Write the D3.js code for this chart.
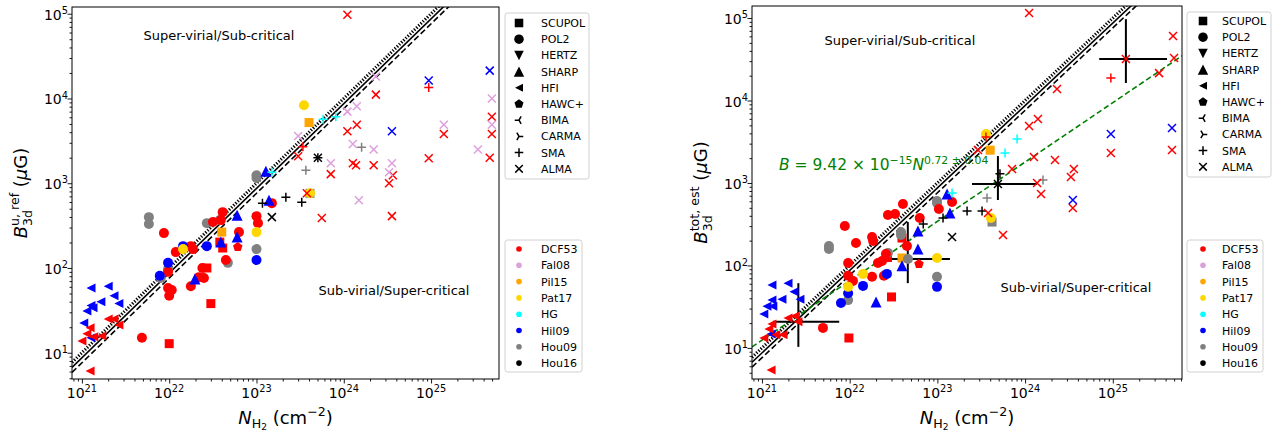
<!DOCTYPE html>
<html>
<head>
<meta charset="utf-8">
<script src="https://cdn.jsdelivr.net/npm/d3@7"></script>
<style>
  body { margin: 0; background: #fff; }
  svg { font-family: 'DejaVu Sans', sans-serif; }
</style>
</head>
<body>
<svg id="chart" width="1284" height="435"></svg>
<script>
const INSTRUMENTS = ['SCUPOL', 'POL2', 'HERTZ', 'SHARP', 'HFI', 'HAWC+', 'BIMA', 'CARMA', 'SMA', 'ALMA'];
const REFERENCES = ['DCF53', 'Fal08', 'Pil15', 'Pat17', 'HG', 'Hil09', 'Hou09', 'Hou16'];
const REF_COLORS = ['#ff0000', '#dda0dd', '#ffa500', '#ffd700', '#00ffff', '#0000ff', '#808080', '#000000'];
const X_TICKS = [1e21, 1e22, 1e23, 1e24, 1e25];
const Y_TICKS = [1e1, 1e2, 1e3, 1e4, 1e5];

// B = k * N reference lines (dotted, solid, dashed)
const REF_LINE_K = [1.0e-20, 8.7e-21, 7.6e-21];
// fitted relation in the right panel: B = a * N^p
const FIT_A = 9.42e-15;
const FIT_P = 0.72;

// [N_H2, B, instrument, reference]
const LEFT_POINTS = [
  [4.0e23, 5200, 'SCUPOL', 'Pil15'], [4.0e22, 265, 'SCUPOL', 'Pil15'], [4.1e23, 760, 'SCUPOL', 'Hou09'],
  [3.8e22, 202, 'SCUPOL', 'DCF53'], [4.1e22, 172, 'SCUPOL', 'DCF53'], [2.7e22, 100, 'SCUPOL', 'DCF53'],
  [3.0e22, 38, 'SCUPOL', 'DCF53'], [1.0e22, 12.8, 'SCUPOL', 'DCF53'],
  [1.0e23, 1240, 'POL2', 'Hou09'], [1.0e23, 1150, 'POL2', 'Hou09'], [5.85e21, 398, 'POL2', 'Hou09'],
  [5.85e21, 330, 'POL2', 'Hou09'], [3.8e22, 367, 'POL2', 'Hou09'], [2.7e22, 338, 'POL2', 'Hou09'],
  [1.0e23, 167, 'POL2', 'Hou09'], [4.7e22, 115, 'POL2', 'Hou09'], [9.7e21, 97, 'POL2', 'Hou09'],
  [8.0e21, 76, 'POL2', 'Hou09'],
  [4.1e22, 456, 'POL2', 'DCF53'], [1.0e23, 409, 'POL2', 'DCF53'], [1.04e23, 338, 'POL2', 'DCF53'],
  [1.5e23, 582, 'POL2', 'DCF53'], [3.17e22, 348, 'POL2', 'DCF53'], [3.9e22, 367, 'POL2', 'DCF53'],
  [8.7e21, 258, 'POL2', 'DCF53'], [1.77e22, 181, 'POL2', 'DCF53'], [1.87e22, 167, 'POL2', 'DCF53'],
  [6.3e22, 265, 'POL2', 'DCF53'], [1.19e22, 154, 'POL2', 'DCF53'], [4.46e22, 124, 'POL2', 'DCF53'],
  [9.7e21, 90, 'POL2', 'DCF53'], [2.4e22, 100, 'POL2', 'DCF53'], [2.5e22, 76, 'POL2', 'DCF53'],
  [2.19e22, 78, 'POL2', 'DCF53'], [1.77e22, 61, 'POL2', 'DCF53'], [9.7e21, 58, 'POL2', 'DCF53'],
  [1.07e22, 55, 'POL2', 'DCF53'], [1.0e22, 47, 'POL2', 'DCF53'], [4.87e21, 15, 'POL2', 'DCF53'],
  [1.44e22, 181, 'POL2', 'Hil09'], [2.7e22, 181, 'POL2', 'Hil09'], [1.0e23, 124, 'POL2', 'Hil09'],
  [9.7e21, 115, 'POL2', 'Hil09'], [7.8e21, 81, 'POL2', 'Hil09'],
  [3.5e23, 8300, 'POL2', 'Pat17'], [4.1e23, 762, 'POL2', 'Pat17'], [1.0e23, 265, 'POL2', 'Pat17'],
  [1.44e22, 167, 'POL2', 'Pat17'],
  [1.28e23, 1380, 'SHARP', 'Hil09'], [1.39e23, 631, 'SHARP', 'Hil09'], [6.0e22, 420, 'SHARP', 'Hil09'],
  [3.9e22, 202, 'SHARP', 'Hil09'], [6.0e22, 232, 'SHARP', 'Hil09'], [1.97e22, 74, 'SHARP', 'Hil09'],
  [6.1e22, 177, 'HAWC+', 'DCF53'],
  [1.27e21, 58, 'HFI', 'Hil09'], [2.0e21, 61, 'HFI', 'Hil09'], [1.65e21, 40, 'HFI', 'Hil09'],
  [2.33e21, 47, 'HFI', 'Hil09'], [2.65e21, 38, 'HFI', 'Hil09'], [1.27e21, 36, 'HFI', 'Hil09'],
  [1.34e21, 34, 'HFI', 'Hil09'], [1.14e21, 31, 'HFI', 'Hil09'], [1.05e21, 22.5, 'HFI', 'Hil09'],
  [1.27e21, 15, 'HFI', 'Hil09'],
  [2.0e21, 25, 'HFI', 'DCF53'], [2.33e21, 25, 'HFI', 'DCF53'], [2.65e21, 21.3, 'HFI', 'DCF53'],
  [1.24e21, 19.7, 'HFI', 'DCF53'], [1.14e21, 16.7, 'HFI', 'DCF53'], [1.69e21, 15.8, 'HFI', 'DCF53'],
  [1.37e21, 15.4, 'HFI', 'DCF53'], [1.0e21, 13.8, 'HFI', 'DCF53'], [1.24e21, 6.1, 'HFI', 'DCF53'],
  [1.17e23, 582, 'SMA', 'Hou16'], [2.17e23, 684, 'SMA', 'Hou16'], [3.3e23, 597, 'SMA', 'Hou16'],
  [5.05e23, 2000, 'SMA', 'Hou16'],
  [3.4e23, 2700, 'SMA', 'DCF53'], [9.4e24, 13500, 'SMA', 'DCF53'],
  [1.5e23, 1350, 'SMA', 'HG'], [5.8e23, 5700, 'SMA', 'HG'], [8.1e23, 6100, 'SMA', 'HG'],
  [3.68e23, 1420, 'SMA', 'Hou09'], [1.6e24, 2650, 'SMA', 'Hou09'],
  [5.05e23, 2000, 'ALMA', 'Hou16'], [1.5e23, 398, 'ALMA', 'Hou16'],
  [1.1e24, 97000, 'ALMA', 'DCF53'], [3.0e23, 2080, 'ALMA', 'DCF53'], [3.78e23, 762, 'ALMA', 'DCF53'],
  [2.33e24, 11100, 'ALMA', 'DCF53'], [1.41e24, 4900, 'ALMA', 'DCF53'], [1.1e24, 4100, 'ALMA', 'DCF53'],
  [4.97e25, 6100, 'ALMA', 'DCF53'], [4.97e25, 3800, 'ALMA', 'DCF53'], [1.4e25, 3800, 'ALMA', 'DCF53'],
  [4.7e25, 2000, 'ALMA', 'DCF53'], [9.4e24, 1970, 'ALMA', 'DCF53'], [7.1e23, 1280, 'ALMA', 'DCF53'],
  [1.27e24, 1720, 'ALMA', 'DCF53'], [1.38e24, 1630, 'ALMA', 'DCF53'], [2.2e24, 1630, 'ALMA', 'DCF53'],
  [3.65e24, 1240, 'ALMA', 'DCF53'], [3.3e24, 1000, 'ALMA', 'DCF53'], [5.6e23, 388, 'ALMA', 'DCF53'],
  [3.56e24, 409, 'ALMA', 'DCF53'],
  [3.0e23, 3600, 'ALMA', 'Fal08'], [2.33e24, 18200, 'ALMA', 'Fal08'], [4.97e25, 10000, 'ALMA', 'Fal08'],
  [1.41e24, 8100, 'ALMA', 'Fal08'], [1.1e24, 7000, 'ALMA', 'Fal08'], [4.97e25, 4900, 'ALMA', 'Fal08'],
  [1.4e25, 4900, 'ALMA', 'Fal08'], [1.27e24, 2900, 'ALMA', 'Fal08'], [2.2e24, 2500, 'ALMA', 'Fal08'],
  [3.44e25, 2500, 'ALMA', 'Fal08'], [7.1e23, 1720, 'ALMA', 'Fal08'], [3.56e24, 1720, 'ALMA', 'Fal08'],
  [3.3e24, 1350, 'ALMA', 'Fal08'], [1.49e24, 631, 'ALMA', 'Fal08'],
  [4.7e25, 21300, 'ALMA', 'Hil09'], [9.4e24, 16300, 'ALMA', 'Hil09'], [3.56e24, 4100, 'ALMA', 'Hil09']
];

const RIGHT_POINTS = [
  [4.0e23, 2500, 'SCUPOL', 'Pil15'], [3.95e22, 123, 'SCUPOL', 'Pil15'], [4.2e23, 336, 'SCUPOL', 'Hou09'],
  [3.0e22, 41.5, 'SCUPOL', 'DCF53'], [9.8e21, 13.2, 'SCUPOL', 'DCF53'], [2.7e22, 125, 'SCUPOL', 'DCF53'],
  [3.95e22, 215, 'SCUPOL', 'DCF53'],
  [9.9e22, 605, 'POL2', 'Hou09'], [9.9e22, 573, 'POL2', 'Hou09'], [5.8e21, 172, 'POL2', 'Hou09'],
  [5.8e21, 158, 'POL2', 'Hou09'], [3.85e22, 255, 'POL2', 'Hou09'], [3.85e22, 234, 'POL2', 'Hou09'],
  [2.73e22, 142, 'POL2', 'Hou09'], [4.62e22, 120, 'POL2', 'Hou09'], [9.9e22, 73, 'POL2', 'Hou09'],
  [9.6e21, 38, 'POL2', 'Hou09'],
  [4.05e22, 556, 'POL2', 'DCF53'], [2.73e22, 409, 'POL2', 'DCF53'], [3.29e22, 421, 'POL2', 'DCF53'],
  [6.3e22, 377, 'POL2', 'DCF53'], [1.47e23, 589, 'POL2', 'DCF53'], [1.04e23, 484, 'POL2', 'DCF53'],
  [8.8e21, 301, 'POL2', 'DCF53'], [1.8e22, 221, 'POL2', 'DCF53'], [1.85e22, 198, 'POL2', 'DCF53'],
  [1.18e22, 187, 'POL2', 'DCF53'], [4.5e22, 172, 'POL2', 'DCF53'], [2.59e22, 138, 'POL2', 'DCF53'],
  [2.34e22, 113, 'POL2', 'DCF53'], [2.1e22, 107, 'POL2', 'DCF53'], [9.6e21, 107, 'POL2', 'DCF53'],
  [2.46e22, 75, 'POL2', 'DCF53'], [9.6e21, 75, 'POL2', 'DCF53'], [1.09e22, 65, 'POL2', 'DCF53'],
  [1.8e22, 73, 'POL2', 'DCF53'], [4.96e21, 17.5, 'POL2', 'DCF53'],
  [2.66e22, 79, 'POL2', 'Hil09'], [1.42e22, 56.5, 'POL2', 'Hil09'], [9.6e21, 46, 'POL2', 'Hil09'],
  [7.96e21, 35, 'POL2', 'Hil09'], [9.9e22, 55, 'POL2', 'Hil09'],
  [3.58e23, 3930, 'POL2', 'Pat17'], [4.08e23, 377, 'POL2', 'Pat17'], [9.9e22, 123, 'POL2', 'Pat17'],
  [1.42e22, 79, 'POL2', 'Pat17'], [9.6e21, 55, 'POL2', 'Pat17'],
  [1.29e23, 736, 'SHARP', 'Hil09'], [1.39e23, 433, 'SHARP', 'Hil09'], [6.0e22, 262, 'SHARP', 'Hil09'],
  [6.0e22, 158, 'SHARP', 'Hil09'], [3.95e22, 99, 'SHARP', 'Hil09'], [2.0e22, 36, 'SHARP', 'Hil09'],
  [6.17e22, 104, 'HAWC+', 'DCF53'],
  [1.3e21, 58, 'HFI', 'Hil09'], [1.98e21, 61, 'HFI', 'Hil09'], [2.32e21, 48, 'HFI', 'Hil09'],
  [1.69e21, 39, 'HFI', 'Hil09'], [2.71e21, 39, 'HFI', 'Hil09'], [1.3e21, 38, 'HFI', 'Hil09'],
  [1.14e21, 32, 'HFI', 'Hil09'], [1.33e21, 32, 'HFI', 'Hil09'], [1.05e21, 25.8, 'HFI', 'Hil09'],
  [1.27e21, 14.8, 'HFI', 'Hil09'],
  [1.98e21, 23.1, 'HFI', 'DCF53'], [2.38e21, 24.4, 'HFI', 'DCF53'], [2.57e21, 20.7, 'HFI', 'DCF53'],
  [1.3e21, 19.5, 'HFI', 'DCF53'], [1.2e21, 17, 'HFI', 'DCF53'], [1.05e21, 13.2, 'HFI', 'DCF53'],
  [1.44e21, 14.4, 'HFI', 'DCF53'], [1.74e21, 14.4, 'HFI', 'DCF53'], [1.27e21, 5.4, 'HFI', 'DCF53'],
  [5.17e23, 1290, 'SMA', 'Hou16'], [2.18e23, 458, 'SMA', 'Hou16'], [3.23e23, 458, 'SMA', 'Hou16'],
  [1.16e23, 377, 'SMA', 'Hou16'], [6.9e22, 318, 'SMA', 'Hou16'], [4.9e23, 973, 'SMA', 'Hou16'],
  [3.58e23, 3610, 'SMA', 'DCF53'], [9.5e24, 18700, 'SMA', 'DCF53'],
  [1.47e23, 757, 'SMA', 'HG'], [8.1e23, 3420, 'SMA', 'HG'], [5.9e23, 2310, 'SMA', 'HG'],
  [3.68e23, 658, 'SMA', 'Hou09'], [1.6e24, 1090, 'SMA', 'Hou09'],
  [4.9e23, 973, 'ALMA', 'Hou16'], [1.47e23, 221, 'ALMA', 'Hou16'],
  [1.11e24, 115000, 'ALMA', 'DCF53'], [4.86e25, 60500, 'ALMA', 'DCF53'], [4.99e25, 32700, 'ALMA', 'DCF53'],
  [3.37e25, 21500, 'ALMA', 'DCF53'], [1.41e25, 31900, 'ALMA', 'DCF53'], [2.31e24, 13800, 'ALMA', 'DCF53'],
  [1.4e24, 5970, 'ALMA', 'DCF53'], [1.11e24, 4900, 'ALMA', 'DCF53'], [9.5e24, 2310, 'ALMA', 'DCF53'],
  [4.73e25, 2510, 'ALMA', 'DCF53'], [1.26e24, 2070, 'ALMA', 'DCF53'], [2.19e24, 1900, 'ALMA', 'DCF53'],
  [7.1e23, 1480, 'ALMA', 'DCF53'], [3.6e24, 1480, 'ALMA', 'DCF53'], [3.33e24, 1180, 'ALMA', 'DCF53'],
  [1.37e24, 1000, 'ALMA', 'DCF53'], [1.52e24, 736, 'ALMA', 'DCF53'], [3.5e24, 498, 'ALMA', 'DCF53'],
  [2.9e23, 2510, 'ALMA', 'DCF53'], [3.78e23, 433, 'ALMA', 'DCF53'], [5.6e23, 234, 'ALMA', 'DCF53'],
  [9.5e24, 3930, 'ALMA', 'Hil09'], [4.73e25, 4640, 'ALMA', 'Hil09'], [3.5e24, 622, 'ALMA', 'Hil09']
];

// [N, B, N low, N high, B low, B high]
const RIGHT_ERRORS = [
  [2.6e21, 20.7, 1.33e21, 7.6e21, 10.3, 61],
  [4.6e22, 120, 2.66e22, 1.39e23, 61, 336],
  [4.9e23, 973, 2.48e23, 1.37e24, 622, 2120],
  [1.41e25, 31900, 7.0e24, 4.15e25, 16300, 97000]
];

const svg = d3.select('#chart');
const color = d3.scaleOrdinal().domain(REFERENCES).range(REF_COLORS);
const STROKED = new Set(['BIMA', 'CARMA', 'SMA', 'ALMA']);
const MARKER_R = { SCUPOL: 4.5, POL2: 5, HERTZ: 5, SHARP: 5.5, HFI: 4.5, 'HAWC+': 5, BIMA: 4.5, CARMA: 4.5, SMA: 4.5, ALMA: 4 };

function markerPath(inst, r) {
  switch (inst) {
    case 'SCUPOL': return `M${-r},${-r}H${r}V${r}H${-r}Z`;
    case 'POL2': return `M${r},0A${r},${r} 0 1,1 ${-r},0A${r},${r} 0 1,1 ${r},0Z`;
    case 'HERTZ': return `M0,${r}L${-r},${-r}L${r},${-r}Z`;
    case 'SHARP': return `M0,${-r}L${-r},${r}L${r},${r}Z`;
    case 'HFI': return `M${-r},0L${r},${-r}L${r},${r}Z`;
    case 'HAWC+': {
      const pts = d3.range(5).map((i) => {
        const a = -Math.PI / 2 + (i * 2 * Math.PI) / 5;
        return [r * Math.cos(a), r * Math.sin(a)];
      });
      return 'M' + pts.map((p) => p.join(',')).join('L') + 'Z';
    }
    case 'BIMA': return `M0,0L${-r},0M0,0L${r * 0.5},${-r * 0.87}M0,0L${r * 0.5},${r * 0.87}`;
    case 'CARMA': return `M0,0L${r},0M0,0L${-r * 0.5},${-r * 0.87}M0,0L${-r * 0.5},${r * 0.87}`;
    case 'SMA': return `M${-r},0H${r}M0,${-r}V${r}`;
    case 'ALMA': return `M${-r},${-r}L${r},${r}M${-r},${r}L${r},${-r}`;
  }
}

function drawMarker(g, inst, col, r) {
  const p = g.append('path').attr('d', markerPath(inst, r));
  if (STROKED.has(inst)) p.attr('fill', 'none').attr('stroke', col).attr('stroke-width', 1.5);
  else p.attr('fill', col);
  return p;
}

// mathtext-like label: parts {t, italic, scale, shift, back}
function mathText(g, parts, size, anchor) {
  const wrap = g.append('g');
  const text = wrap.append('text').attr('font-size', size);
  let prevShift = 0;
  let lastSpan = null;
  parts.forEach((p) => {
    const shift = p.shift || 0;
    const ts = text.append('tspan').text(p.t)
      .attr('font-size', size * (p.scale || 1))
      .attr('dy', shift - prevShift);
    if (p.italic) ts.attr('font-style', 'italic');
    if (p.back && lastSpan) ts.attr('dx', -lastSpan.node().getComputedTextLength());
    prevShift = shift;
    lastSpan = ts;
  });
  const bb = text.node().getBBox();
  if (anchor === 'middle') text.attr('x', -bb.width / 2);
  if (anchor === 'end') text.attr('x', -bb.width);
  return wrap;
}

function pow10(e, size) {
  return [{ t: '10' }, { t: String(e), scale: 0.7, shift: -size * 0.42 }];
}

function minorTicks(domain) {
  const out = [];
  const lo = Math.floor(Math.log10(domain[0]));
  const hi = Math.ceil(Math.log10(domain[1]));
  for (let e = lo; e <= hi; e++) {
    for (let m = 2; m <= 9; m++) {
      const v = m * Math.pow(10, e);
      if (v >= domain[0] && v <= domain[1]) out.push(v);
    }
  }
  return out;
}

function drawPanel(cfg) {
  const g = svg.append('g');
  const x = d3.scaleLog().domain(cfg.xDomain).range([cfg.x0, cfg.x1]);
  const y = d3.scaleLog().domain(cfg.yDomain).range([cfg.y1, cfg.y0]);

  const clipId = 'clip' + cfg.id;
  g.append('clipPath').attr('id', clipId).append('rect')
    .attr('x', cfg.x0).attr('y', cfg.y0).attr('width', cfg.x1 - cfg.x0).attr('height', cfg.y1 - cfg.y0);
  const plot = g.append('g').attr('clip-path', `url(#${clipId})`);

  // reference lines B = k N
  const nLine = [cfg.xDomain[0], cfg.xDomain[1]];
  const styles = [
    { dash: '1.3,1.7', w: 3.2 },
    { dash: null, w: 1.6 },
    { dash: '6,3', w: 1.6 }
  ];
  REF_LINE_K.forEach((k, i) => {
    const line = d3.line().x((n) => x(n)).y((n) => y(k * n));
    const p = plot.append('path').datum(nLine).attr('d', line)
      .attr('fill', 'none').attr('stroke', '#000').attr('stroke-width', styles[i].w);
    if (styles[i].dash) p.attr('stroke-dasharray', styles[i].dash);
  });

  if (cfg.fit) {
    const lx = x.domain().map(Math.log10);
    const nFit = d3.range(0, 41).map((i) => Math.pow(10, lx[0] + (i * (lx[1] - lx[0])) / 40));
    plot.append('path').datum(nFit)
      .attr('d', d3.line().x((n) => x(n)).y((n) => y(FIT_A * Math.pow(n, FIT_P))))
      .attr('fill', 'none').attr('stroke', '#008000').attr('stroke-width', 1.6).attr('stroke-dasharray', '5.5,3');
  }

  if (cfg.errors) {
    cfg.errors.forEach((e) => {
      plot.append('line').attr('x1', x(e[2])).attr('x2', x(e[3])).attr('y1', y(e[1])).attr('y2', y(e[1]))
        .attr('stroke', '#000').attr('stroke-width', 2);
      plot.append('line').attr('x1', x(e[0])).attr('x2', x(e[0])).attr('y1', y(e[4])).attr('y2', y(e[5]))
        .attr('stroke', '#000').attr('stroke-width', 2);
    });
  }

  cfg.points.forEach((d) => {
    const mg = plot.append('g').attr('transform', `translate(${x(d[0])},${y(d[1])})`);
    drawMarker(mg, d[2], color(d[3]), MARKER_R[d[2]]);
  });

  // axes
  const tickStyle = (sel) => {
    sel.select('.domain').remove();
    sel.selectAll('line').attr('stroke', '#000').attr('stroke-width', 0.9);
  };
  g.append('g').attr('transform', `translate(0,${cfg.y1})`)
    .call(d3.axisBottom(x).tickValues(X_TICKS).tickSize(4.5).tickFormat(''))
    .call(tickStyle);
  g.append('g').attr('transform', `translate(0,${cfg.y1})`)
    .call(d3.axisBottom(x).tickValues(minorTicks(cfg.xDomain)).tickSize(2.5).tickFormat(''))
    .call(tickStyle);
  g.append('g').attr('transform', `translate(${cfg.x0},0)`)
    .call(d3.axisLeft(y).tickValues(Y_TICKS).tickSize(4.5).tickFormat(''))
    .call(tickStyle);
  g.append('g').attr('transform', `translate(${cfg.x0},0)`)
    .call(d3.axisLeft(y).tickValues(minorTicks(cfg.yDomain)).tickSize(2.5).tickFormat(''))
    .call(tickStyle);

  g.append('rect').attr('x', cfg.x0).attr('y', cfg.y0)
    .attr('width', cfg.x1 - cfg.x0).attr('height', cfg.y1 - cfg.y0)
    .attr('fill', 'none').attr('stroke', '#000').attr('stroke-width', 1);

  const tickFont = 14;
  X_TICKS.forEach((v) => {
    const t = mathText(g, pow10(Math.round(Math.log10(v)), tickFont), tickFont, 'middle');
    t.attr('transform', `translate(${x(v)},${cfg.y1 + 19})`);
  });
  Y_TICKS.forEach((v) => {
    const t = mathText(g, pow10(Math.round(Math.log10(v)), tickFont), tickFont, 'end');
    t.attr('transform', `translate(${cfg.x0 - 4},${y(v) + 6})`);
  });

  // axis labels
  const lab = 18;
  const xl = mathText(g, [
    { t: 'N', italic: true },
    { t: 'H', scale: 0.7, shift: lab * 0.22 },
    { t: '2', scale: 0.5, shift: lab * 0.36 },
    { t: ' (cm' },
    { t: '−2', scale: 0.7, shift: -lab * 0.42 },
    { t: ')' }
  ], lab, 'middle');
  xl.attr('transform', `translate(${(cfg.x0 + cfg.x1) / 2},${cfg.y1 + 45})`);

  const yl = mathText(g, [
    { t: 'B', italic: true },
    { t: '3d', scale: 0.7, shift: lab * 0.25 },
    { t: cfg.ySup, scale: 0.7, shift: -lab * 0.45, back: true },
    { t: ' (' },
    { t: 'μ', italic: true },
    { t: 'G)' }
  ], lab, 'middle');
  yl.attr('transform', `translate(${cfg.yLabelX},${(cfg.y0 + cfg.y1) / 2}) rotate(-90)`);

  // annotations
  g.append('text').attr('x', cfg.annUp[0]).attr('y', cfg.annUp[1]).attr('text-anchor', 'middle')
    .attr('font-size', 13).text('Super-virial/Sub-critical');
  g.append('text').attr('x', cfg.annLow[0]).attr('y', cfg.annLow[1]).attr('text-anchor', 'middle')
    .attr('font-size', 13).text('Sub-virial/Super-critical');

  if (cfg.fit) {
    const eq = 15.5;
    const ft = mathText(g, [
      { t: 'B', italic: true },
      { t: ' = 9.42 × 10' },
      { t: '−15', scale: 0.7, shift: -eq * 0.42 },
      { t: 'N', italic: true },
      { t: '0.72 ± 0.04', scale: 0.7, shift: -eq * 0.42 }
    ], eq, 'start');
    ft.attr('transform', `translate(${cfg.fitLabel[0]},${cfg.fitLabel[1]})`).attr('fill', '#008000');
  }

  // legends
  const L1 = cfg.leg1;
  g.append('rect').attr('x', L1.x).attr('y', L1.y).attr('width', L1.w).attr('height', L1.h)
    .attr('rx', 2.5).attr('fill', '#fff').attr('stroke', '#d0d0d0').attr('stroke-width', 1);
  INSTRUMENTS.forEach((name, i) => {
    const cy = L1.ty + i * 16.2;
    const mg = g.append('g').attr('transform', `translate(${L1.mx},${cy})`);
    drawMarker(mg, name, '#000', name === 'HFI' ? 4 : MARKER_R[name] * 0.95);
    g.append('text').attr('x', L1.tx).attr('y', cy + 4).attr('font-size', 11).text(name);
  });
  const L2 = cfg.leg2;
  g.append('rect').attr('x', L2.x).attr('y', L2.y).attr('width', L2.w).attr('height', L2.h)
    .attr('rx', 2.5).attr('fill', '#fff').attr('stroke', '#d0d0d0').attr('stroke-width', 1);
  REFERENCES.forEach((name, i) => {
    const cy = L2.ty + i * 16.3;
    g.append('circle').attr('cx', L1.mx).attr('cy', cy).attr('r', 2.8).attr('fill', color(name));
    g.append('text').attr('x', L1.tx).attr('y', cy + 4).attr('font-size', 11).text(name);
  });
}

drawPanel({
  id: 'L', x0: 72, x1: 499, y0: 7, y1: 379,
  xDomain: [7.7e20, 6e25], yDomain: [4.9, 1.2e5],
  points: LEFT_POINTS, ySup: 'u, ref', yLabelX: 27,
  annUp: [219, 40], annLow: [394, 295],
  leg1: { x: 505, y: 13, w: 84, h: 166, mx: 519, tx: 541, ty: 23 },
  leg2: { x: 505, y: 240, w: 77, h: 132, ty: 249 }
});

drawPanel({
  id: 'R', x0: 752, x1: 1182, y0: 6, y1: 379,
  xDomain: [7.7e20, 6.15e25], yDomain: [4.2, 1.4e5],
  points: RIGHT_POINTS, errors: RIGHT_ERRORS, fit: true, ySup: 'tot, est', yLabelX: 707,
  fitLabel: [779, 170],
  annUp: [900, 45], annLow: [1076, 292],
  leg1: { x: 1187, y: 12, w: 84, h: 165, mx: 1203, tx: 1222, ty: 21 },
  leg2: { x: 1187, y: 240, w: 76, h: 132, ty: 249 }
});
</script>
</body>
</html>
